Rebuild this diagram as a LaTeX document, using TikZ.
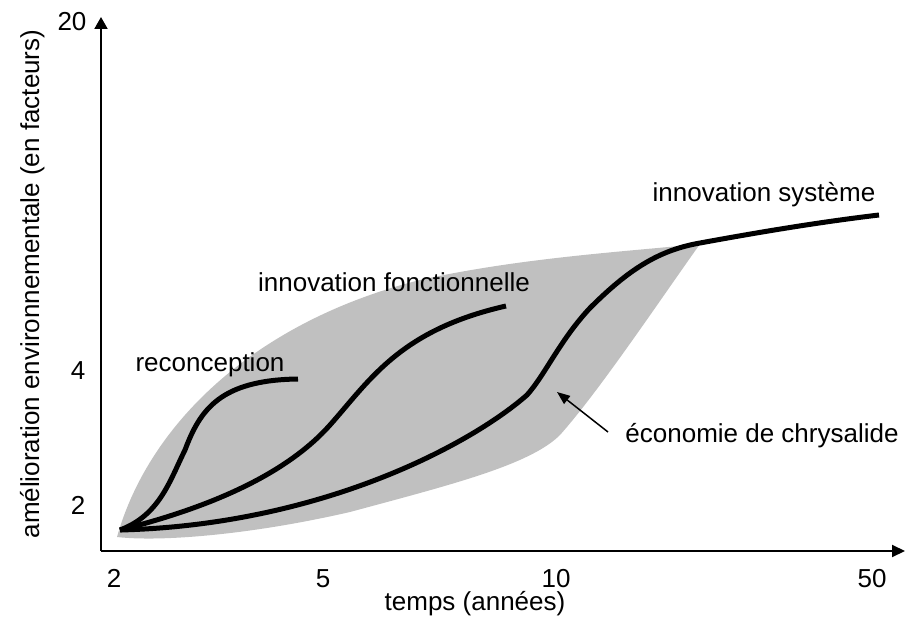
\documentclass[tikz,border=0pt]{standalone}
\usepackage{fontspec}
\setmainfont{Liberation Sans}
\usetikzlibrary{arrows.meta}
\definecolor{zonegray}{RGB}{192,192,192}
\tikzset{
  lbl/.style={font=\fontsize{26}{31}\selectfont, inner sep=0pt, anchor=base},
  curve/.style={line width=5pt, black},
  axis/.style={line width=2pt, black},
}
\begin{document}
\begin{tikzpicture}[x=1pt,y=-1pt]
\useasboundingbox (0,0) rectangle (913,620);
% grey zone
\fill[zonegray] (117,537) .. controls (150,420) and (260,320) .. (420,280)
  .. controls (520,258) and (620,252) .. (700,244)
  .. controls (660,300) and (600,390) .. (560,435)
  .. controls (530,465) and (450,485) .. (350,512)
  .. controls (250,535) and (160,542) .. (117,537) -- cycle;
% axes
\coordinate (O) at (101,551);
\coordinate (Ytop) at (101,17);
\coordinate (Xend) at (905,551);
\draw[axis, -{Triangle[length=12pt,width=13pt]}] (O) -- (Ytop);
\draw[axis, -{Triangle[length=13pt,width=12pt]}] (O) -- (Xend);
% curves
\coordinate (S) at (120,530);
\draw[curve] (S) .. controls (160,515) and (170,480) .. (185,450)
  .. controls (200,410) and (220,380) .. (298,379);
\draw[curve] (S) .. controls (220,505) and (290,470) .. (330,425)
  .. controls (370,380) and (400,330) .. (506,306);
\draw[curve] (S) .. controls (320,525) and (470,445) .. (527,395)
  .. controls (545,375) and (560,340) .. (590,308)
  .. controls (630,268) and (660,250) .. (700,243)
  .. controls (760,232) and (820,222) .. (879,215);
% tick labels
\node[lbl] (y20) at (72,31) {20};
\node[lbl] (y4) at (78,379) {4};
\node[lbl] (y2) at (78,514) {2};
\node[lbl] (x2) at (114,587) {2};
\node[lbl] (x5) at (323,587) {5};
\node[lbl] (x10) at (556,587) {10};
\node[lbl] (x50) at (872,587) {50};
\node[lbl] (xt) at (475,610) {temps (années)};
\node[lbl, rotate=90] (yt) at (39,284) {amélioration environnementale (en facteurs)};
% curve labels
\node[lbl] (reco) at (210,371) {reconception};
\node[lbl] (fonc) at (394,292) {innovation fonctionnelle};
\node[lbl] (sys) at (764,202) {innovation système};
\node[lbl] (chry) at (762,442) {économie de chrysalide};
\coordinate (chryA) at (608,432);
\coordinate (chryB) at (557,392);
\draw[line width=1.5pt, -{Triangle[length=13pt,width=10pt]}] (chryA) -- (chryB);
\end{tikzpicture}
\end{document}
